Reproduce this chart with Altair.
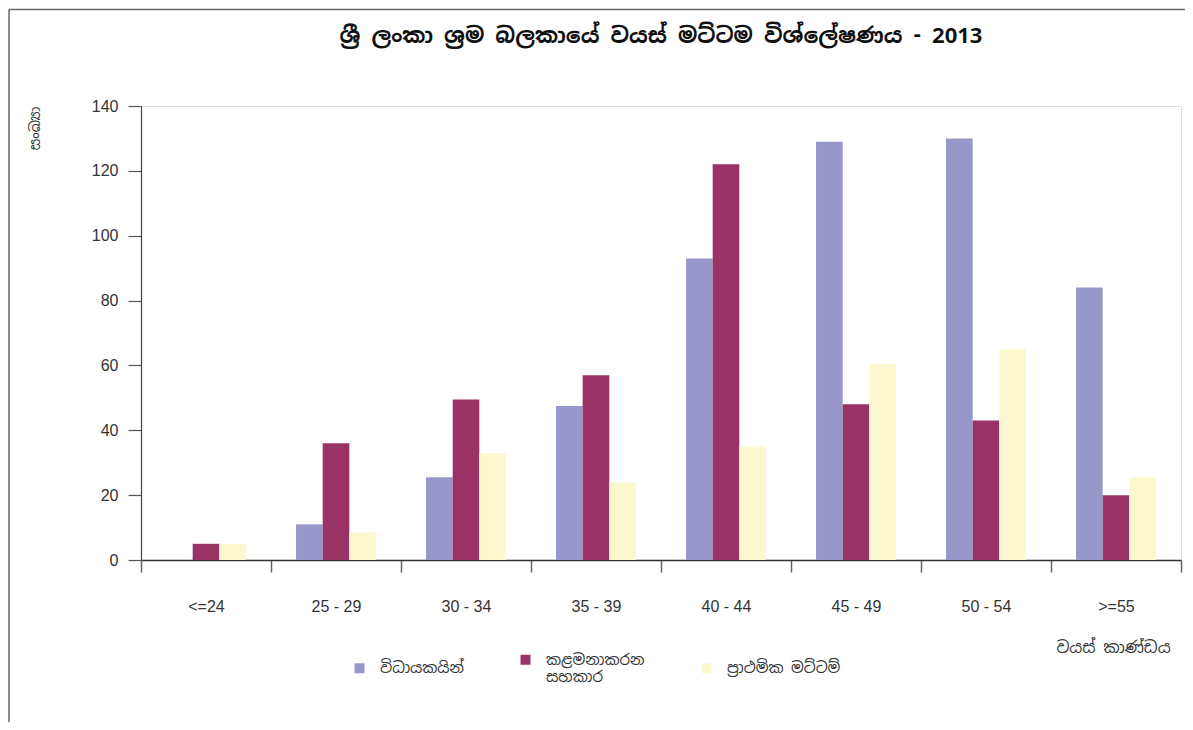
import altair as alt
import pandas as pd

# ---- data ----
categories = ["<=24", "25 - 29", "30 - 34", "35 - 39", "40 - 44", "45 - 49", "50 - 54", ">=55"]
series_names = ["විධායකයින්", "කළමනාකරන සහකාර", "ප්‍රාථමික මට්ටම්"]
executives = [None, 11, 25.5, 47.5, 93, 129, 130, 84]
mgmt_assistants = [5, 36, 49.5, 57, 122, 48, 43, 20]
primary_level = [5, 8.5, 33, 24, 35, 60.5, 65, 25.5]
series_values = [executives, mgmt_assistants, primary_level]
colors = ["#9797C9", "#993366", "#FBF8D0"]
y_ticks = [0, 20, 40, 60, 80, 100, 120, 140]

title_text = "ශ්‍රී ලංකා ශ්‍රම බලකායේ වයස් මට්ටම විශ්ලේෂණය - 2013"
y_title = "සංඛ්‍යා"
x_title = "වයස් කාණ්ඩය"

rows = []
for name, vals in zip(series_names, series_values):
    for cat, v in zip(categories, vals):
        rows.append({"age": cat, "series": name, "value": v})
df = pd.DataFrame(rows)

W, H = 1040, 454
SIN = "Noto Sans Sinhala, Iskoola Pota, Noto Sans, sans-serif"
NUM = "Liberation Sans, Helvetica, Arial, sans-serif"

bars = alt.Chart(df).mark_bar().encode(
    x=alt.X(
        "age:N",
        sort=categories,
        scale=alt.Scale(paddingInner=0, paddingOuter=0),
        axis=alt.Axis(
            title=x_title,
            titleFont=SIN,
            titleFontSize=16,
            titleFontWeight="normal",
            titleColor="#333",
            titleX=972,
            titleY=87,
            titleAlign="center",
            titleBaseline="middle",
            titleAngle=0,
            labelAngle=0,
            labelFont=NUM,
            labelFontSize=16,
            labelColor="#333",
            labelPadding=26,
            tickBand="extent",
            tickSize=12,
            tickColor="#666",
            tickWidth=1.5,
            domainColor="#333",
            domainWidth=1.5,
        ),
    ),
    xOffset=alt.XOffset(
        "series:N",
        sort=series_names,
        scale=alt.Scale(domain=series_names, paddingInner=0, paddingOuter=0.94),
    ),
    y=alt.Y(
        "value:Q",
        scale=alt.Scale(domain=[0, 140], nice=False),
        axis=alt.Axis(
            values=y_ticks,
            grid=False,
            title=y_title,
            titleFont=SIN,
            titleFontSize=14,
            titleFontWeight="normal",
            titleColor="#333",
            titleX=-106,
            titleY=22,
            titleAlign="center",
            titleBaseline="middle",
            labelFont=NUM,
            labelFontSize=16,
            labelColor="#333",
            labelPadding=10,
            tickSize=13,
            tickColor="#555",
            tickWidth=1.2,
            domainColor="#444",
            domainWidth=1.2,
        ),
    ),
    color=alt.Color(
        "series:N",
        sort=series_names,
        scale=alt.Scale(domain=series_names, range=colors),
        legend=alt.Legend(
            orient="none",
            legendX=211,
            legendY=546,
            direction="horizontal",
            columns=3,
            title=None,
            padding=0,
            symbolType="square",
            symbolSize=100,
            symbolStrokeWidth=0,
            labelFont=SIN,
            labelFontSize=15,
            labelColor="#333",
            labelOffset=13,
            columnPadding=54,
            labelLimit=300,
            labelExpr="datum.label == 'කළමනාකරන සහකාර' ? ['කළමනාකරන', 'සහකාර'] : datum.label",
        ),
    ),
)

frame_df = pd.DataFrame({"k": [0]})
frame_top = alt.Chart(frame_df).mark_rule(color="#666", strokeWidth=1.5).encode(
    x=alt.value(-132), x2=alt.value(W + 6), y=alt.value(-96.5)
)
frame_left = alt.Chart(frame_df).mark_rule(color="#666", strokeWidth=1.5).encode(
    x=alt.value(-132), y=alt.value(-96.5), y2=alt.value(H + 170)
)

chart = (
    alt.layer(bars, frame_top, frame_left)
    .properties(
        width=W,
        height=H,
        title=alt.TitleParams(
            text=title_text,
            font=SIN,
            fontSize=22,
            fontWeight="bold",
            color="#111",
            anchor="middle",
            offset=-39,
        ),
        autosize=alt.AutoSizeParams(type="none"),
        padding={"left": 133, "top": 98, "right": 4, "bottom": 162},
    )
    .configure_view(stroke=None)
    .configure(background="white")
)

chart.save("out.html", embed_options={"renderer": "svg", "actions": False})
